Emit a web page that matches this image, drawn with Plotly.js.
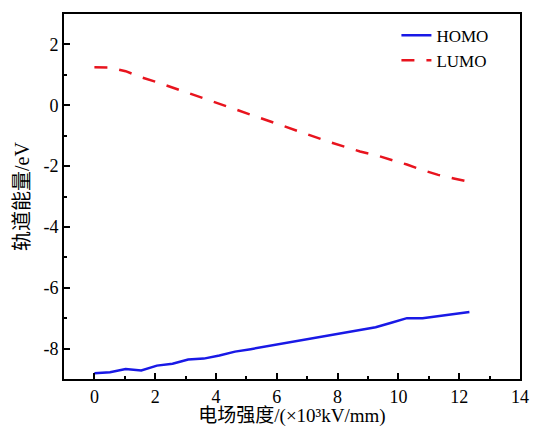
<!DOCTYPE html>
<html>
<head>
<meta charset="utf-8">
<script src="https://cdn.plot.ly/plotly-3.0.1.min.js"></script>
<style>html,body{margin:0;padding:0;background:#fff;}#chart{width:533px;height:427px;}</style>
</head>
<body>
<div id="chart"></div>
<script>
const fieldStrength = [0, 0.514, 1.028, 1.542, 2.056, 2.57, 3.084, 3.598, 4.112, 4.626, 5.14, 5.654, 6.168, 6.682, 7.196, 7.71, 8.224, 8.738, 9.252, 9.766, 10.28, 10.794, 11.308, 11.822, 12.336];
const homo = [-8.81, -8.78, -8.67, -8.72, -8.56, -8.50, -8.36, -8.33, -8.23, -8.10, -8.02, -7.93, -7.84, -7.75, -7.66, -7.57, -7.48, -7.39, -7.30, -7.15, -7.00, -7.00, -6.93, -6.86, -6.80];
const lumo = [1.25, 1.24, 1.12, 0.92, 0.76, 0.58, 0.40, 0.22, 0.05, -0.12, -0.30, -0.48, -0.66, -0.85, -1.04, -1.20, -1.36, -1.52, -1.64, -1.79, -1.95, -2.13, -2.29, -2.41, -2.52];
const seriesNames = ['HOMO', 'LUMO'];
const xTickVals = [0, 2, 4, 6, 8, 10, 12, 14];
const xTickText = ['0', '2', '4', '6', '8', '10', '12', '14'];
const yTickVals = [2, 0, -2, -4, -6, -8];
const yTickText = ['2', '0', '-2', '-4', '-6', '-8'];
const xTitle = '电场强度/(×10³kV/mm)';
const yTitle = '轨道能量/eV';

const fontFam = '"Liberation Serif", "Times New Roman", "Noto Sans CJK SC", serif';

const traces = [
  {x: fieldStrength, y: homo, name: seriesNames[0], mode: 'lines',
   line: {color: 'rgb(25,25,230)', width: 2.5}},
  {x: fieldStrength, y: lumo, name: seriesNames[1], mode: 'lines',
   line: {color: 'rgb(232,20,30)', width: 2.5, dash: '13px,12px'}}
];

const axisCommon = {
  showgrid: false, zeroline: false,
  showline: true, linecolor: '#000', linewidth: 2, mirror: true,
  ticks: 'inside', ticklen: 6, tickwidth: 2, tickcolor: '#000',
  tickfont: {family: fontFam, size: 18, color: '#000'},
  minor: {dtick: 1, ticks: 'inside', ticklen: 3, tickwidth: 2, tickcolor: '#000'}
};

const layout = {
  width: 533, height: 427,
  margin: {l: 64, r: 13, t: 14, b: 48},
  paper_bgcolor: '#fff', plot_bgcolor: '#fff',
  showlegend: true,
  legend: {x: 0.729, y: 0.99, xanchor: 'left', yanchor: 'top',
           font: {family: fontFam, size: 17, color: '#000'},
           bgcolor: 'rgba(0,0,0,0)', borderwidth: 0, tracegroupgap: 0, itemwidth: 30},
  xaxis: Object.assign({}, axisCommon, {
    range: [-1, 14], tickmode: 'array', tickvals: xTickVals, ticktext: xTickText,
    title: {text: xTitle, font: {family: fontFam, size: 19, color: '#000'}, standoff: 7}
  }),
  yaxis: Object.assign({}, axisCommon, {
    range: [-9, 3], tickmode: 'array', tickvals: yTickVals, ticktext: yTickText,
    title: {text: yTitle, font: {family: fontFam, size: 20, color: '#000'}, standoff: 8}
  })
};

Plotly.newPlot('chart', traces, layout, {displayModeBar: false, staticPlot: true});
</script>
</body>
</html>
